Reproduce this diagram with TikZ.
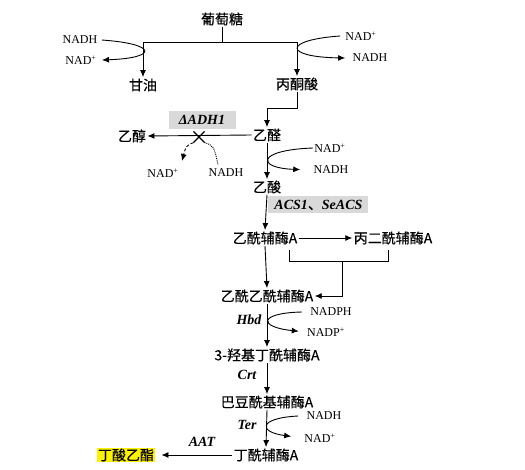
\documentclass[tikz,border=0pt]{standalone}
\usepackage{fontspec}
\setmainfont{Liberation Serif}
\newfontfamily\cjk[FakeBold=0.4]{Noto Sans CJK SC}
\usetikzlibrary{arrows.meta,shapes.misc}
\begin{document}
\begin{tikzpicture}[x=1pt,y=-1pt, line width=0.9pt,
  cn/.style={font=\cjk\fontsize{14}{16}\selectfont, inner sep=1pt},
  co/.style={font=\fontsize{12}{14}\selectfont, inner sep=1pt},
  enz/.style={font=\fontsize{14}{16}\selectfont\bfseries\itshape, inner sep=1pt},
  arr/.style={-{Latex[length=7pt,width=6pt]}},
]
\useasboundingbox (0,0) rectangle (525,470);
% main metabolites
\node[cn] (glu) at (222,19) {葡萄糖};
\node[cn] (gly) at (143,85) {甘油};
\node[cn] (pyr) at (297,84) {丙酮酸};
\node[cn] (ald) at (267,135) {乙醛};
\node[cn] (etoh) at (132,136) {乙醇};
\node[cn] (ace) at (267,187) {乙酸};
\node[cn] (acoa) at (265,238) {乙酰辅酶A};
\node[cn] (mcoa) at (393,238) {丙二酰辅酶A};
\node[cn] (aacoa) at (267,296) {乙酰乙酰辅酶A};
\node[cn] (hbcoa) at (267,355) {3-羟基丁酰辅酶A};
\node[cn] (crcoa) at (267,402) {巴豆酰基辅酶A};
\node[cn] (bucoa) at (266,455) {丁酰辅酶A};
\node[cn, fill=yellow] (ester) at (126,455) {丁酸乙酯};
% cofactors
\node[co] (n1) at (80,40) {NADH};
\node[co] (n2) at (81,60) {NAD\textsuperscript{+}};
\node[co] (n3) at (361,36) {NAD\textsuperscript{+}};
\node[co] (n4) at (370,58) {NADH};
\node[co] (n5) at (163,173) {NAD\textsuperscript{+}};
\node[co] (n6) at (226,173) {NADH};
\node[co] (n7) at (330,148) {NAD\textsuperscript{+}};
\node[co] (n8) at (331,170) {NADH};
\node[co] (n9) at (331,312) {NADPH};
\node[co] (n10) at (326,332) {NADP\textsuperscript{+}};
\node[co] (n11) at (324,416) {NADH};
\node[co] (n12) at (320,438) {NAD\textsuperscript{+}};
% enzymes
\node[enz, fill=gray!30, minimum width=67pt, minimum height=18pt] (adh) at (202,120) {ΔADH1};
\node[enz, fill=gray!30, anchor=west, minimum width=100pt, minimum height=17pt] (acs) at (268,205) {ACS1{\cjk\mdseries\upshape 、}SeACS};
\node[enz] (hbd) at (249,320) {Hbd};
\node[enz] (crt) at (247,375) {Crt};
\node[enz] (ter) at (247,425) {Ter};
\node[enz] (aat) at (202,442) {AAT};
\node[draw, cross out, minimum size=10pt, inner sep=0pt, line width=1.2pt] (x) at (199,137) {};
% coordinates
\coordinate (g0) at (222,42);
\coordinate (gL) at (143,42);
\coordinate (gR) at (297,42);
\coordinate (pk) at (297,108);
\coordinate (d1) at (182,161);
\coordinate (d2) at (218,165);
\coordinate (b1) at (289,250);
\coordinate (b2) at (289,261);
\coordinate (b3) at (388,261);
\coordinate (b4) at (388,250);
\coordinate (bm) at (342,261);
% glucose split
\draw (glu.south) -- (g0);
\draw (gL) -- (gR);
\draw[arr] (gL) -- (gly.north);
\draw[arr] (gR) -- (pyr.north);
\draw[arr] ([xshift=3pt]n1.east) .. controls (158,44) and (158,58) .. ([xshift=4pt]n2.east);
\draw[arr] ([xshift=-4pt]n3.west) .. controls (283,40) and (283,57) .. ([xshift=-6pt]n4.west);
% pyruvate to acetaldehyde
\draw[arr] (pyr.south) -- (pk) -| (ald.north);
\draw[arr] (ald.west) -- (etoh.east);
\draw[arr, densely dashed] (x.south west) .. controls (186,146) .. (d1);
\draw[densely dotted] (x.south east) .. controls (214,146) .. (d2);
% acetaldehyde to acetate
\draw[arr] (ald.south) -- (ace.north);
\draw[arr, shorten >=12pt] (n7.west) .. controls (256,150) and (256,168) .. (n8.west);
\draw[arr] (ace.south) -- (acoa.north);
% acetyl-CoA
\draw[arr] (acoa.east) -- (mcoa.west);
\draw (b1) -- (b2) -- (b3) -- (b4);
\draw[arr] (bm) |- (aacoa.east);
\draw[arr] (acoa.south) -- (aacoa.north);
% Hbd
\draw[arr] (aacoa.south) -- (hbcoa.north);
\draw[arr, shorten >=7pt] ([xshift=-7pt]n9.west) .. controls (258,313) and (258,327) .. (n10.west);
% Crt
\draw[arr] (hbcoa.south) -- (crcoa.north);
% Ter
\draw[arr] (crcoa.south) -- (bucoa.north);
\draw[arr, shorten >=12pt] ([xshift=-7pt]n11.west) .. controls (258,418) and (258,432) .. (n12.west);
% AAT
\draw[arr, shorten >=6pt] (bucoa.west) -- (ester.east);
\end{tikzpicture}
\end{document}
